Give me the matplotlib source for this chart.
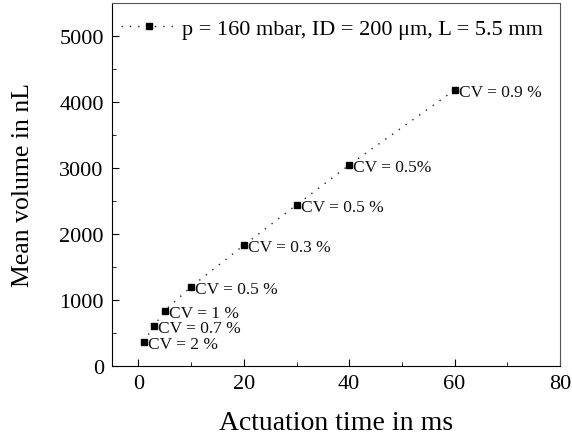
import matplotlib
matplotlib.use("Agg")
import matplotlib.pyplot as plt
from matplotlib.ticker import MultipleLocator

# actuation time (ms) vs mean dispensed volume (nL)
times = [1, 3, 5, 10, 20, 30, 40, 60]
volumes = [370, 610, 840, 1200, 1830, 2440, 3045, 4180]
cv_labels = ["CV = 2 %", "CV = 0.7 %", "CV = 1 %", "CV = 0.5 %",
             "CV = 0.3 %", "CV = 0.5 %", "CV = 0.5%", "CV = 0.9 %"]
legend_label = "p = 160 mbar, ID = 200 \u03bcm, L = 5.5 mm"

plt.rcParams["font.family"] = ["Liberation Serif", "DejaVu Serif"]

fig = plt.figure(figsize=(5.72, 4.39), dpi=100)
ax = fig.add_axes([0.196, 0.164, 0.783, 0.827])

ax.plot(times, volumes, linestyle=(0, (1, 5)), color="#222222", linewidth=1.0,
        marker="s", markersize=4.5, markerfacecolor="black",
        markeredgecolor="black", label=legend_label)

for t, v, lab in zip(times, volumes, cv_labels):
    ax.annotate(lab, (t, v), xytext=(3, -1.5), textcoords="offset points",
                ha="left", va="center", fontsize=12.5, color="#111111")

ax.set_xlim(-5, 80)
ax.set_ylim(0, 5500)
ax.xaxis.set_major_locator(MultipleLocator(20))
ax.xaxis.set_minor_locator(MultipleLocator(10))
ax.yaxis.set_major_locator(MultipleLocator(1000))
ax.yaxis.set_minor_locator(MultipleLocator(500))
ax.tick_params(which="both", direction="in", labelsize=16, pad=6)
ax.tick_params(which="major", length=5)
ax.tick_params(which="minor", length=3)

for side in ["top", "right"]:
    ax.spines[side].set_color("#555555")

ax.set_xlabel("Actuation time in ms", fontsize=20, labelpad=12)
ax.set_ylabel("Mean volume in nL", fontsize=18.5, labelpad=18)

ax.legend(loc="upper left", bbox_to_anchor=(-0.016, 1.0), frameon=False,
          fontsize=16, handlelength=2.6, handletextpad=0.15,
          borderaxespad=0.4, borderpad=0.3)

fig.savefig("out.png", dpi=100)
